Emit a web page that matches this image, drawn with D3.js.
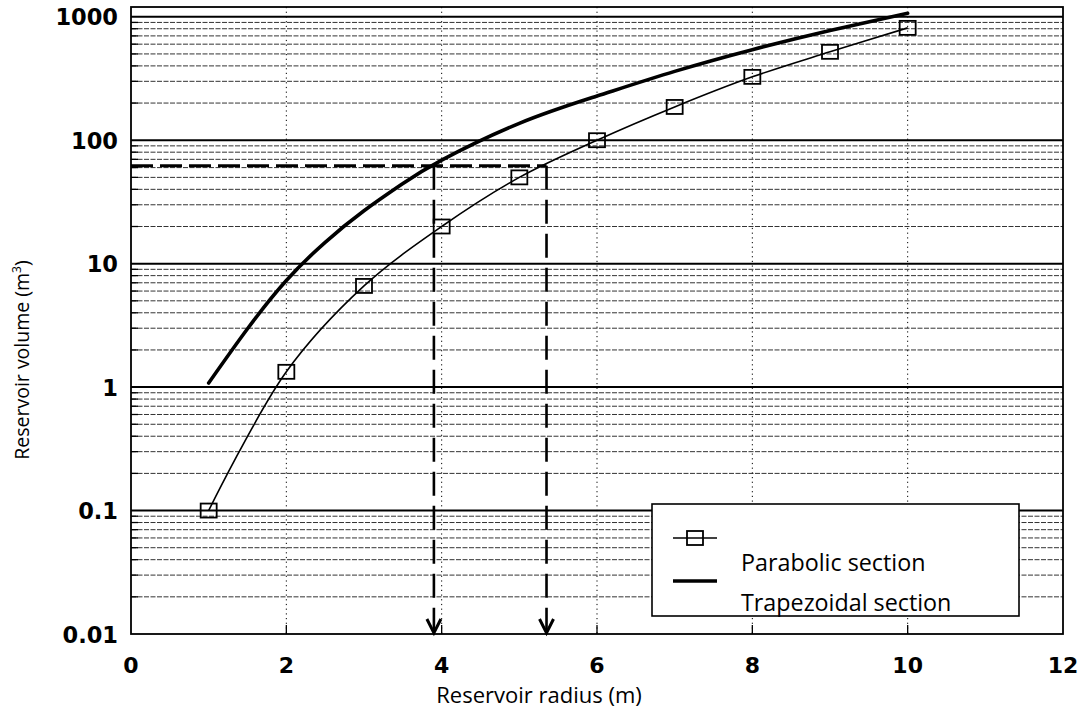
<!DOCTYPE html>
<html>
<head>
<meta charset="utf-8">
<script src="https://cdn.jsdelivr.net/npm/d3@7"></script>
<style>
  body { margin: 0; background: #fff; }
  text { fill: #000; }
</style>
</head>
<body>
<svg id="chart" width="1079" height="721"></svg>
<script>
// Axis ticks
const radiusTicks = [0, 2, 4, 6, 8, 10, 12];
const volumeTicks = [0.01, 0.1, 1, 10, 100, 1000];
const volumeTickLabels = ["0.01", "0.1", "1", "10", "100", "1000"];

// Parabolic section: volume at each integer radius
const parabolicRadius = [1, 2, 3, 4, 5, 6, 7, 8, 9, 10];
const parabolicVolume = [0.1, 1.33, 6.6, 20, 50, 100, 186, 326, 520, 813];

// Trapezoidal section: continuous curve
const trapezoidalRadius = [1, 1.5, 2, 2.5, 3, 3.5, 4, 5, 6, 7, 8, 9, 10];
const trapezoidalVolume = [1.08, 2.97, 7.3, 14.9, 26.8, 44.5, 69, 137, 228, 361, 541, 773, 1067];

// Design volume and the radii
const designVolume = 62;
const designRadius = [3.9, 5.35];

const svg = d3.select("#chart");
const plotLeft = 131, plotRight = 1063, plotTop = 7, plotBottom = 634;

const x = d3.scaleLinear().domain([0, 12]).range([plotLeft, plotRight]);
const y = d3.scaleLog().domain([0.01, 1200]).range([plotBottom, plotTop]);

// Minor horizontal gridlines (2..9 in every decade)
const minorValues = [];
for (let e = -2; e <= 2; e++) {
  for (let k = 2; k <= 9; k++) minorValues.push(k * Math.pow(10, e));
}
const grid = svg.append("g");
grid.selectAll("line.minor").data(minorValues).join("line")
  .attr("class", "minor")
  .attr("x1", plotLeft).attr("x2", plotRight)
  .attr("y1", d => y(d)).attr("y2", d => y(d))
  .attr("stroke", "#333").attr("stroke-width", 1)
  .attr("stroke-dasharray", "5,1.5");
// short solid ticks at the left edge for minor lines
grid.selectAll("line.minortick").data(minorValues).join("line")
  .attr("class", "minortick")
  .attr("x1", plotLeft).attr("x2", plotLeft + 7)
  .attr("y1", d => y(d)).attr("y2", d => y(d))
  .attr("stroke", "#000").attr("stroke-width", 1.3);

// Major (decade) gridlines
grid.selectAll("line.major").data(volumeTicks.slice(1)).join("line")
  .attr("class", "major")
  .attr("x1", plotLeft).attr("x2", plotRight)
  .attr("y1", d => y(d)).attr("y2", d => y(d))
  .attr("stroke", "#000").attr("stroke-width", 2);

// Vertical dotted gridlines
grid.selectAll("line.vgrid").data(radiusTicks.slice(1, -1)).join("line")
  .attr("class", "vgrid")
  .attr("x1", d => x(d)).attr("x2", d => x(d))
  .attr("y1", plotTop).attr("y2", plotBottom)
  .attr("stroke", "#000").attr("stroke-width", 1)
  .attr("stroke-dasharray", "1.2,3.5");
// x tick marks along the bottom
grid.selectAll("line.xtick").data(radiusTicks.slice(1, -1)).join("line")
  .attr("class", "xtick")
  .attr("x1", d => x(d)).attr("x2", d => x(d))
  .attr("y1", plotBottom - 9).attr("y2", plotBottom)
  .attr("stroke", "#000").attr("stroke-width", 1.3);

// Plot frame
svg.append("rect")
  .attr("x", plotLeft).attr("y", plotTop)
  .attr("width", plotRight - plotLeft).attr("height", plotBottom - plotTop)
  .attr("fill", "none").attr("stroke", "#000").attr("stroke-width", 1.8);

// Tick labels
const tickFont = "'DejaVu Sans', sans-serif";
svg.append("g").selectAll("text").data(volumeTicks).join("text")
  .attr("x", 118).attr("y", d => y(d) + 2)
  .attr("text-anchor", "end").attr("dominant-baseline", "middle")
  .attr("font-family", tickFont).attr("font-weight", "bold").attr("font-size", 22.5)
  .text((d, i) => volumeTickLabels[i]);
svg.append("g").selectAll("text").data(radiusTicks).join("text")
  .attr("x", d => x(d)).attr("y", 673)
  .attr("text-anchor", "middle")
  .attr("font-family", tickFont).attr("font-weight", "bold").attr("font-size", 22)
  .text(d => d);

// Axis titles
const titleFont = "'Open Sans', sans-serif";
svg.append("text")
  .attr("x", 539).attr("y", 703)
  .attr("text-anchor", "middle")
  .attr("font-family", titleFont).attr("font-size", 22)
  .text("Reservoir radius (m)");
const yTitle = svg.append("text")
  .attr("transform", "translate(29,360) rotate(-90)")
  .attr("text-anchor", "middle")
  .attr("font-family", titleFont).attr("font-size", 19.5);
yTitle.append("tspan").text("Reservoir volume (m");
yTitle.append("tspan").attr("font-size", 12).attr("dy", -8).text("3");
yTitle.append("tspan").attr("dy", 8).text(")");

// Design volume reference line and read-off arrows
svg.append("line")
  .attr("x1", x(0)).attr("x2", x(designRadius[1]))
  .attr("y1", y(designVolume)).attr("y2", y(designVolume))
  .attr("stroke", "#000").attr("stroke-width", 3)
  .attr("stroke-dasharray", "22,7");
const arrows = svg.append("g");
arrows.selectAll("line").data(designRadius).join("line")
  .attr("x1", d => x(d)).attr("x2", d => x(d))
  .attr("y1", y(designVolume)).attr("y2", plotBottom - 2)
  .attr("stroke", "#000").attr("stroke-width", 2.6)
  .attr("stroke-dasharray", "24,10");
arrows.selectAll("path").data(designRadius).join("path")
  .attr("d", d => `M${x(d) - 7},${plotBottom - 15} L${x(d)},${plotBottom - 1} L${x(d) + 7},${plotBottom - 15}`)
  .attr("fill", "none").attr("stroke", "#000").attr("stroke-width", 3);

// Curves
const smoothLine = d3.line()
  .x(d => x(d[0])).y(d => y(d[1]))
  .curve(d3.curveNatural);
const markerLine = d3.line()
  .x(d => x(d[0])).y(d => y(d[1]))
  .curve(d3.curveCatmullRom.alpha(0.5));

svg.append("path")
  .datum(trapezoidalRadius.map((r, i) => [r, trapezoidalVolume[i]]))
  .attr("d", smoothLine)
  .attr("fill", "none").attr("stroke", "#000").attr("stroke-width", 3.6)
  .attr("stroke-linecap", "round");

svg.append("path")
  .datum(parabolicRadius.map((r, i) => [r, parabolicVolume[i]]))
  .attr("d", markerLine)
  .attr("fill", "none").attr("stroke", "#000").attr("stroke-width", 1.6);

svg.append("g").selectAll("rect")
  .data(parabolicRadius.map((r, i) => [r, parabolicVolume[i]]))
  .join("rect")
  .attr("x", d => x(d[0]) - 8).attr("y", d => y(d[1]) - 7)
  .attr("width", 16).attr("height", 14)
  .attr("fill", "none").attr("stroke", "#000").attr("stroke-width", 1.8);

// Legend
const legend = svg.append("g");
legend.append("rect")
  .attr("x", 652).attr("y", 504).attr("width", 367).attr("height", 112)
  .attr("fill", "#fff").attr("stroke", "#000").attr("stroke-width", 1.6);
legend.append("line")
  .attr("x1", 673).attr("x2", 717).attr("y1", 538).attr("y2", 538)
  .attr("stroke", "#000").attr("stroke-width", 1.6);
legend.append("rect")
  .attr("x", 687).attr("y", 531).attr("width", 16).attr("height", 14)
  .attr("fill", "none").attr("stroke", "#000").attr("stroke-width", 1.8);
legend.append("line")
  .attr("x1", 673).attr("x2", 717).attr("y1", 581).attr("y2", 581)
  .attr("stroke", "#000").attr("stroke-width", 3.4);
legend.append("text")
  .attr("x", 741).attr("y", 571)
  .attr("font-family", titleFont).attr("font-size", 23.3)
  .text("Parabolic section");
legend.append("text")
  .attr("x", 741).attr("y", 611)
  .attr("font-family", titleFont).attr("font-size", 23.3)
  .text("Trapezoidal section");
</script>
</body>
</html>
